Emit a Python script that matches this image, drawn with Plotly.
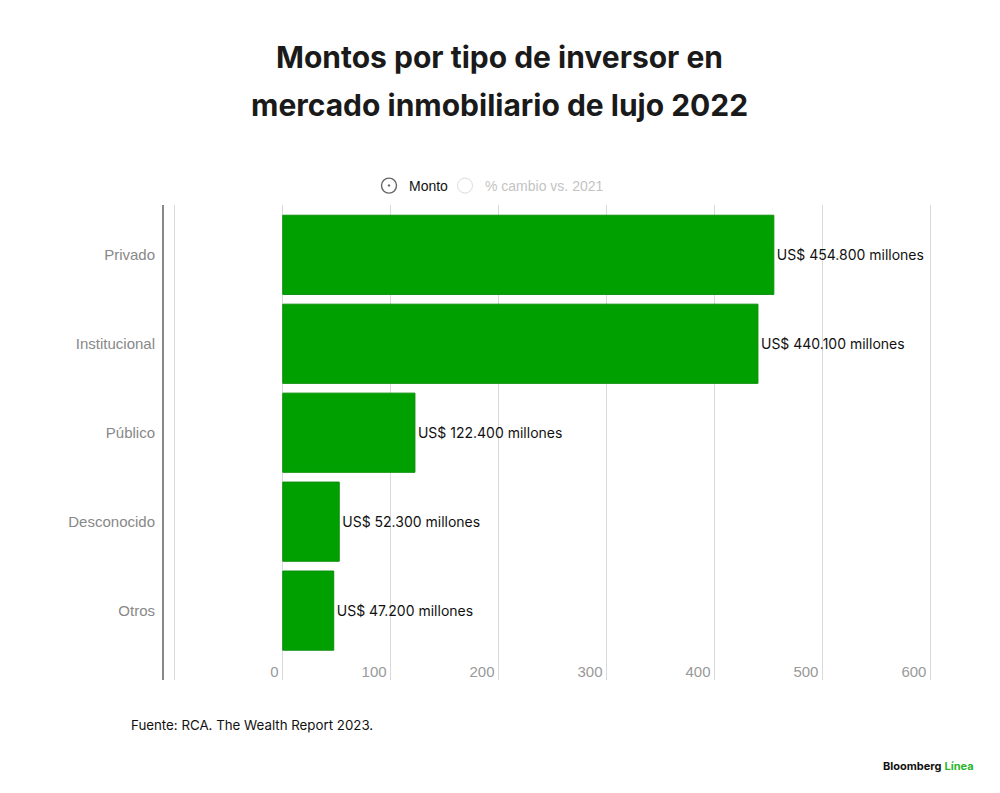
import plotly.graph_objects as go

# datos del grafico
tipos = ["Privado", "Institucional", "Público", "Desconocido", "Otros"]
montos = [454.8, 440.1, 122.4, 52.3, 47.2]
etiquetas = ["US$ 454.800 millones", "US$ 440.100 millones", "US$ 122.400 millones",
             "US$ 52.300 millones", "US$ 47.200 millones"]
ticks_x = [-100, 0, 100, 200, 300, 400, 500, 600]
ticks_x_texto = ["", "0", "100", "200", "300", "400", "500", "600"]

verde = "#00a000"

# area del grafico en pixeles de pantalla
izq, der, arriba, abajo = 163, 935, 205, 680
ancho, alto = der - izq, abajo - arriba


def px_x(p):
    return (p - izq) / ancho


def px_y(p):
    return (abajo - p) / alto


fig = go.Figure()

fig.add_trace(go.Bar(
    y=tipos, x=montos, orientation="h",
    text=etiquetas, textposition="outside",
    textfont=dict(family="Inter", size=14, color="#111"),
    marker=dict(color=verde, line=dict(color="#0a8f0a", width=1)),
    cliponaxis=False, showlegend=False, hoverinfo="skip",
))

# leyenda tipo "radio": una leyenda por opcion
fig.add_trace(go.Scatter(
    x=[None], y=[None], mode="markers", name="Monto", legend="legend",
    marker=dict(symbol="circle-dot", size=15, color="white",
                line=dict(color="#666", width=1.4)),
))
fig.add_trace(go.Scatter(
    x=[None], y=[None], mode="markers", legend="legend2",
    name="<span style='color:#888'>% cambio vs. 2021</span>",
    visible="legendonly",
    marker=dict(symbol="circle", size=15, color="white",
                line=dict(color="#bbb", width=1)),
))

leyenda = dict(orientation="h", xanchor="left", y=px_y(186), yanchor="middle",
               font=dict(family="Liberation Sans", size=14, color="#111"),
               itemwidth=30, bgcolor="rgba(0,0,0,0)")

fig.update_layout(
    width=1000, height=793,
    margin=dict(l=izq - 7, r=1000 - der + 7, t=arriba - 8, b=793 - abajo + 8),
    paper_bgcolor="white", plot_bgcolor="white",
    font=dict(family="Liberation Sans", size=15, color="#888"),
    bargap=0.11,
    legend=dict(leyenda, x=px_x(368)),
    legend2=dict(leyenda, x=px_x(444)),
    xaxis=dict(range=[-110, 605], tickvals=ticks_x,
               ticktext=[t + "\u00a0" for t in ticks_x_texto],
               showgrid=True, gridcolor="#d9d9d9", gridwidth=1,
               zeroline=False, ticks="", ticklabelposition="inside left",
               ticklabelstandoff=-6,
               tickfont=dict(size=15, color="#999")),
    yaxis=dict(categoryorder="array", categoryarray=tipos,
               range=[4.78, -0.56], showgrid=False, zeroline=False,
               showline=True, linecolor="#888", linewidth=2,
               ticks="", ticklabelstandoff=4,
               tickfont=dict(size=15, color="#888")),
)

titulo = ["Montos por tipo de inversor en", "mercado inmobiliario de lujo 2022"]
for i, linea in enumerate(titulo):
    fig.add_annotation(text="<b>" + linea + "</b>", xref="paper", yref="paper",
                       x=px_x(498), y=px_y(57 + 48 * i), xanchor="center", yanchor="middle",
                       showarrow=False,
                       font=dict(family="Inter", size=30, color="#1a1a1a"))

fig.add_annotation(text="Fuente: RCA. The Wealth Report 2023.", xref="paper", yref="paper",
                   x=px_x(128), y=px_y(725), xanchor="left", yanchor="middle",
                   showarrow=False, font=dict(family="Inter", size=13.3, color="#111"))
fig.add_annotation(text="<b>Bloomberg</b> <span style='color:#2bb52b'><b>Línea</b></span>",
                   xref="paper", yref="paper",
                   x=px_x(975), y=px_y(766), xanchor="right", yanchor="middle",
                   showarrow=False, font=dict(family="Inter", size=11, color="#111"))

fig.write_html("out.html")
